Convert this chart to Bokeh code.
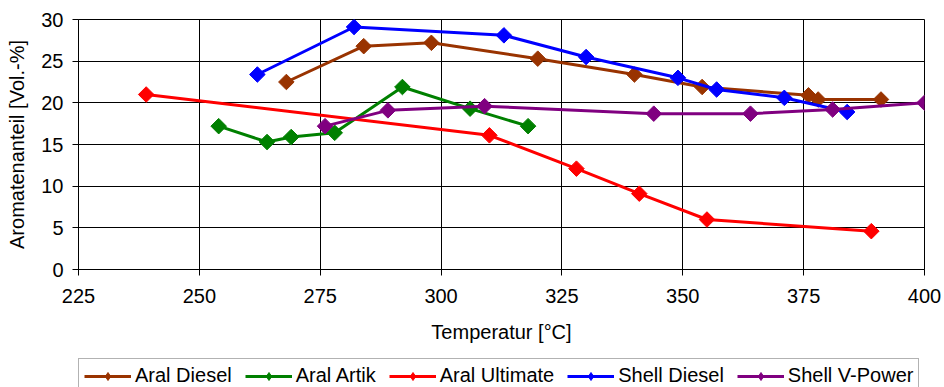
import numpy as np
from bokeh.plotting import figure
from bokeh.layouts import column
from bokeh.models import Range1d, FixedTicker, Legend, LegendItem, ColumnDataSource
from bokeh.embed import file_html
from bokeh.resources import INLINE

x_ticks = [225, 250, 275, 300, 325, 350, 375, 400]
y_ticks = [0, 5, 10, 15, 20, 25, 30]

aral_diesel_t = [268, 284, 298, 320, 340, 354, 376, 378, 391]
aral_diesel_v = [22.5, 26.8, 27.2, 25.3, 23.4, 21.9, 20.9, 20.4, 20.4]

aral_artik_t = [254, 264, 269, 278, 292, 306, 318]
aral_artik_v = [17.2, 15.3, 15.9, 16.4, 21.9, 19.3, 17.2]

aral_ultimate_t = [239, 310, 328, 341, 355, 389]
aral_ultimate_v = [21.0, 16.1, 12.1, 9.1, 6.0, 4.6]

shell_diesel_t = [262, 282, 313, 330, 349, 357, 371, 384]
shell_diesel_v = [23.4, 29.1, 28.1, 25.5, 23.0, 21.6, 20.6, 18.9]

shell_vpower_t = [276, 289, 309, 344, 364, 381, 400]
shell_vpower_v = [17.2, 19.1, 19.6, 18.7, 18.7, 19.2, 20.0]

series_names = ["Aral Diesel", "Aral Artik", "Aral Ultimate", "Shell Diesel", "Shell V-Power"]
series_t = [aral_diesel_t, aral_artik_t, aral_ultimate_t, shell_diesel_t, shell_vpower_t]
series_v = [aral_diesel_v, aral_artik_v, aral_ultimate_v, shell_diesel_v, shell_vpower_v]
colors = ["#993300", "#008000", "#FF0000", "#0000FF", "#800080"]

FONT = "Liberation Sans"

# ---- main chart ----
p = figure(width=944, height=357, output_backend="svg", toolbar_location=None,
           x_range=Range1d(225, 400), y_range=Range1d(0, 30),
           min_border_left=78, min_border_right=20, min_border_top=19, min_border_bottom=88)

p.background_fill_color = "white"
p.border_fill_color = "white"
p.outline_line_color = "black"
p.outline_line_width = 1

p.xaxis.ticker = FixedTicker(ticks=x_ticks)
p.yaxis.ticker = FixedTicker(ticks=y_ticks)
p.xgrid.ticker = FixedTicker(ticks=x_ticks)
p.ygrid.ticker = FixedTicker(ticks=y_ticks)
p.xgrid.grid_line_color = "black"
p.ygrid.grid_line_color = "black"
p.xgrid.grid_line_width = 1
p.ygrid.grid_line_width = 1

for ax in (p.xaxis[0], p.yaxis[0]):
    ax.axis_line_color = "black"
    ax.major_tick_line_color = "black"
    ax.major_tick_in = 0
    ax.major_tick_out = 6
    ax.minor_tick_line_color = None
    ax.major_label_text_font = FONT
    ax.major_label_text_font_size = "20px"
    ax.major_label_text_color = "black"
    ax.axis_label_text_font = FONT
    ax.axis_label_text_font_size = "20px"
    ax.axis_label_text_font_style = "normal"
    ax.axis_label_text_color = "black"

p.xaxis.axis_label = "Temperatur [°C]"
p.yaxis.axis_label = "Aromatenanteil [Vol.-%]"
p.xaxis.major_label_standoff = 13
p.yaxis.major_label_standoff = 9
p.xaxis.axis_label_standoff = 15
p.yaxis.axis_label_standoff = 10

for name, t, v, c in zip(series_names, series_t, series_v, colors):
    src = ColumnDataSource(dict(t=t, v=v))
    p.line("t", "v", source=src, line_color=c, line_width=3)
    p.scatter("t", "v", source=src, marker="square", angle=np.pi / 4,
              size=11, fill_color=c, line_color=c)

# ---- legend strip (its frame is aligned with the chart frame) ----
lg = figure(width=944, height=30, output_backend="svg", toolbar_location=None,
            x_range=Range1d(0, 1), y_range=Range1d(0, 1),
            x_axis_location=None, y_axis_location=None, min_border=0)
lg.grid.visible = False
lg.outline_line_color = None
lg.background_fill_color = "white"
lg.border_fill_color = "white"

items = []
for name, t, v, c in zip(series_names, series_t, series_v, colors):
    # same series data; it lies outside this strip's 0..1 ranges, so only the legend glyph shows
    src = ColumnDataSource(dict(t=t, v=v))
    ln = lg.line("t", "v", source=src, line_color=c, line_width=3)
    sc = lg.scatter("t", "v", source=src, marker="diamond", size=14,
                    fill_color=c, line_color=c)
    items.append(LegendItem(label=name, renderers=[ln, sc]))

legend = Legend(items=items, orientation="horizontal", location=(0, -6),
                label_text_font=FONT, label_text_font_size="20px",
                label_text_color="black",
                glyph_width=47, glyph_height=20, label_standoff=4,
                spacing=13, padding=5, margin=0,
                border_line_color="#666666", border_line_width=1,
                background_fill_color="white")
lg.add_layout(legend, "center")

layout = column(p, lg, spacing=0)
open("out.html", "w").write(file_html(layout, INLINE))
